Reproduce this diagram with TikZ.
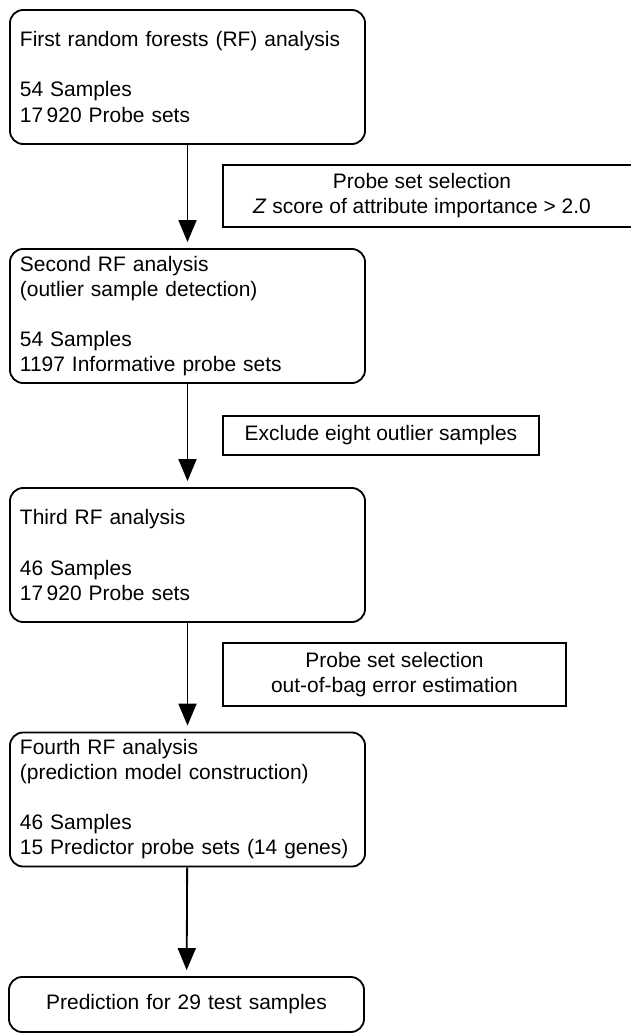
\documentclass[tikz,border=0pt]{standalone}
\usepackage{fontspec}
\setmainfont{Liberation Sans}
\usepackage{tikz}
\usetikzlibrary{arrows.meta, positioning}

\begin{document}
\begin{tikzpicture}[x=0.025cm, y=-0.025cm,
  rfbox/.style={rectangle, rounded corners=0.33cm, draw=black, line width=1.3pt, minimum width=8.875cm, minimum height=3.35cm, text width=8.375cm, inner xsep=0.25cm, align=left, font=\fontsize{14.9}{17.8}\selectfont},
  selbox/.style={rectangle, draw=black, line width=1.3pt, align=center, inner sep=0pt, font=\fontsize{14.9}{17.8}\selectfont},
  flow/.style={-{Triangle[length=0.55cm, width=0.45cm]}, line width=1.3pt, shorten >=0.15cm}]

\useasboundingbox (0,0) rectangle (631,1035);

% Nodes
\node (first) [rfbox] at (187.5,77) {First random forests (RF) analysis\\[0.625cm]54 Samples\\17\,920 Probe sets};

\node (second) [rfbox] at (187.5,316) {Second RF analysis\\(outlier sample detection)\\[0.625cm]54 Samples\\1197 Informative probe sets};

\node (third) [rfbox] at (187.5,555) {Third RF analysis\\[0.625cm]46 Samples\\17\,920 Probe sets};

\node (fourth) [rfbox] at (187.5,799.5) {Fourth RF analysis\\(prediction model construction)\\[0.625cm]46 Samples\\15 Predictor probe sets (14 genes)};

\node (predict) [rfbox, minimum width=8.825cm, minimum height=1.375cm, align=center] at (186.5,1004.5) {Prediction for 29 test samples};

% Selection steps
\node (zscore) [selbox, draw=none] at (422,196) {Probe set selection\\\textit{Z} score of attribute importance > 2.0};
\draw [line width=1.3pt] (223,165) rectangle (660,227);

\node (exclude) [selbox, minimum width=7.9cm, minimum height=0.975cm] at (381,435.5) {Exclude eight outlier samples};

\node (oob) [selbox, minimum width=8.575cm, minimum height=1.575cm] at (394.5,674.5) {Probe set selection\\out-of-bag error estimation};

% Arrows
\draw [flow] (first) -- (second);
\draw [flow] (second) -- (third);
\draw [flow] (third) -- (fourth);
\draw [flow] (fourth) -- (predict);

\end{tikzpicture}
\end{document}
